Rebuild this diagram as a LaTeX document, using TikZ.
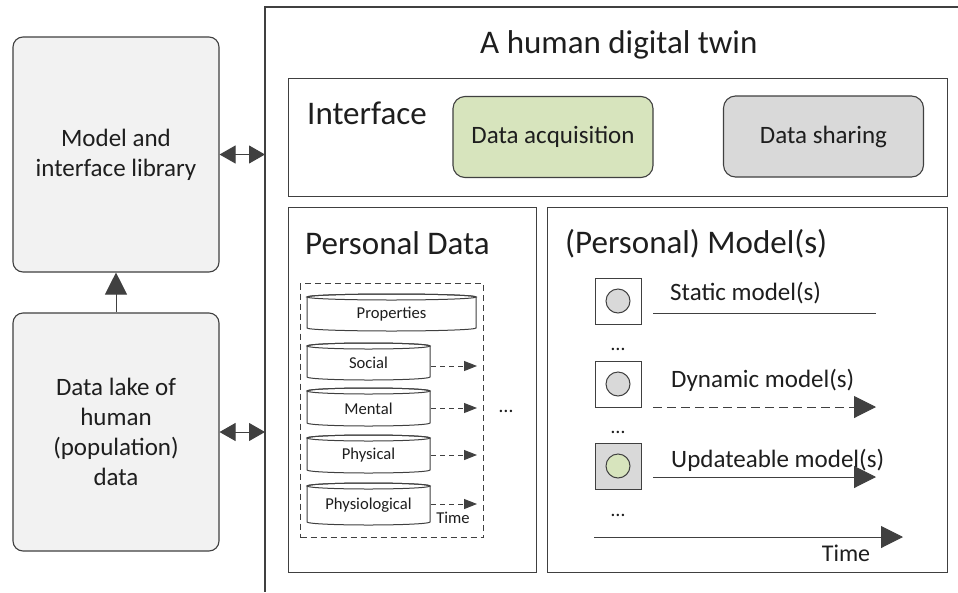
\documentclass[tikz,border=0pt]{standalone}
\usepackage{fontspec}
\setmainfont{Carlito}
\usetikzlibrary{arrows.meta}
\definecolor{ln}{HTML}{404040}
\definecolor{txt}{HTML}{1E1E1E}
\definecolor{lgray}{HTML}{F2F2F2}
\definecolor{mgray}{HTML}{D9D9D9}
\definecolor{lgreen}{HTML}{D7E4BD}
\newcommand{\pdcyl}[6]{%
  \pgfmathsetmacro\cyX{(#2+#4)/2}%
  \pgfmathsetmacro\cyR{(#4-#2)/2}%
  \pgfmathsetmacro\cyT{#3+3}%
  \pgfmathsetmacro\cyB{#5-3}%
  \pgfmathsetmacro\cyM{(#3+3+#5)/2}%
  \draw[ln, line width=1pt, fill=white] (#2,\cyT) -- (#2,\cyB)
     arc[start angle=180, end angle=360, x radius=\cyR pt, y radius=3pt]
     -- (#4,\cyT)
     arc[start angle=0, end angle=180, x radius=\cyR pt, y radius=3pt] -- cycle;
  \draw[ln, line width=1pt] (\cyX,\cyT) ellipse[x radius=\cyR pt, y radius=3pt];
  \node[cyltxt] (#1) at (\cyX,\cyM) {#6};
}
\tikzset{
  lbox/.style={draw=ln, line width=1.1pt, fill=lgray, rounded corners=10pt,
    minimum width=206pt, inner sep=0pt, align=center, text=txt,
    font=\fontsize{25}{30}\selectfont},
  panel/.style={draw=ln, line width=1.1pt, inner sep=0pt, anchor=north west},
  ibox/.style={draw=ln, line width=1.1pt, rounded corners=12pt, minimum width=200pt,
    minimum height=81pt, inner sep=0pt, text=txt, font=\fontsize{25}{30}\selectfont},
  head/.style={anchor=base west, inner sep=0pt, text=txt, font=\fontsize{33}{38}\selectfont},
  cyltxt/.style={inner sep=0pt, text=txt, font=\fontsize{16.6}{19}\selectfont},
  mlabel/.style={anchor=base west, inner sep=0pt, text=txt, font=\fontsize{25}{30}\selectfont},
  msq/.style={draw=ln, line width=1pt, minimum size=46pt, inner sep=0pt},
  mcirc/.style={circle, draw=ln, line width=1pt, minimum size=24pt, inner sep=0pt},
  bigarrow/.style={draw=ln, line width=1pt, -{Triangle[length=22pt,width=22pt]}},
  smallarrow/.style={draw=ln, line width=1pt, dash pattern=on 5pt off 4pt,
    -{Triangle[length=13pt,width=10pt]}},
  dblarrow/.style={draw=ln, line width=1pt,
    {Triangle[length=16pt,width=18pt]}-{Triangle[length=16pt,width=18pt]}},
  dots/.style={inner sep=0pt, text=txt, font=\fontsize{20}{24}\selectfont},
}
\begin{document}
\begin{tikzpicture}[x=1pt, y=-1pt]
\useasboundingbox[fill=white] (0,0) rectangle (958,592);

% left column
\node[lbox, minimum height=235pt] (model) at (116,154.5) {Model and\\interface library};
\node[lbox, minimum height=238pt] (lake) at (116,432) {Data lake of\\human\\(population)\\data};
\draw[bigarrow] (lake.north) -- (model.south);

% outer digital twin frame
\coordinate (otr) at (958,7);
\coordinate (otl) at (265,7);
\coordinate (obl) at (265,592);
\draw[ln, line width=1.3pt] (otr) -- (otl) -- (obl);
\coordinate (mlink) at (265,154.5);
\coordinate (llink) at (265,432);
\draw[dblarrow] (model.east) -- (mlink);
\draw[dblarrow] (lake.east) -- (llink);

\node[anchor=base west, inner sep=0pt, text=txt, font=\fontsize{33}{38}\selectfont] (title) at (480,53) {A human digital twin};

% interface
\node[panel, minimum width=659pt, minimum height=118pt] (iface) at (288,78) {};
\node[head] (ifacet) at (307,124) {Interface};
\node[ibox, fill=lgreen] (acq) at (553,137) {Data acquisition};
\node[ibox, fill=mgray] (share) at (823.5,136.5) {Data sharing};

% personal data
\node[panel, minimum width=248pt, minimum height=365pt] (pd) at (288,207) {};
\node[head] (pdt) at (305,254) {Personal Data};
\node[panel, draw=ln, line width=1pt, dash pattern=on 6pt off 4pt,
      minimum width=183pt, minimum height=254pt] (pdbox) at (300,283) {};
\pdcyl{prop}{307}{294}{476}{331}{Properties}
\pdcyl{soc}{307}{343}{430}{380}{Social}
\pdcyl{ment}{307}{388}{430}{426}{Mental}
\pdcyl{phys}{307}{435}{430}{473}{Physical}
\pdcyl{physio}{307}{483}{430}{525}{Physiological}
\coordinate (socs) at (431,366);  \coordinate (soce) at (477,366);
\coordinate (ments) at (431,408); \coordinate (mente) at (477,408);
\coordinate (physs) at (431,455); \coordinate (physe) at (477,455);
\coordinate (phios) at (431,504); \coordinate (phioe) at (477,504);
\draw[smallarrow] (socs) -- (soce);
\draw[smallarrow] (ments) -- (mente);
\draw[smallarrow] (physs) -- (physe);
\draw[smallarrow] (phios) -- (phioe);
\node[cyltxt] (pdtime) at (453,518) {Time};
\node[dots] (pddots) at (506,411) {…};

% models
\node[panel, minimum width=400pt, minimum height=365pt] (mods) at (547,207) {};
\node[head] (modst) at (565,253) {(Personal) Model(s)};

\node[msq] (sq1) at (618,301) {};
\node[mcirc, fill=mgray] (c1) at (sq1) {};
\node[msq] (sq2) at (618,384) {};
\node[mcirc, fill=mgray] (c2) at (sq2) {};
\node[msq, fill=mgray] (sq3) at (618,466) {};
\node[mcirc, fill=lgreen] (c3) at (sq3) {};

\node[dots] (d1) at (618,349) {…};
\node[dots] (d2) at (618,432) {…};
\node[dots] (d3) at (618,515) {…};

\node[mlabel] (stat) at (670,300) {Static model(s)};
\node[mlabel] (dyn) at (671,387) {Dynamic model(s)};
\node[mlabel] (upd) at (671,467) {Updateable model(s)};

\coordinate (s1) at (653,313); \coordinate (e1) at (876,313);
\coordinate (s2) at (653,407); \coordinate (e2) at (876,407);
\coordinate (s3) at (653,477); \coordinate (e3) at (876,477);
\coordinate (ts) at (594,537); \coordinate (te) at (903,537);
\draw[ln, line width=1pt] (s1) -- (e1);
\draw[bigarrow, dash pattern=on 9pt off 5pt] (s2) -- (e2);
\draw[bigarrow] (s3) -- (e3);
\draw[bigarrow] (ts) -- (te);
\node[inner sep=0pt, text=txt, font=\fontsize{24}{29}\selectfont] (mtime) at (846,553) {Time};
\end{tikzpicture}
\end{document}
